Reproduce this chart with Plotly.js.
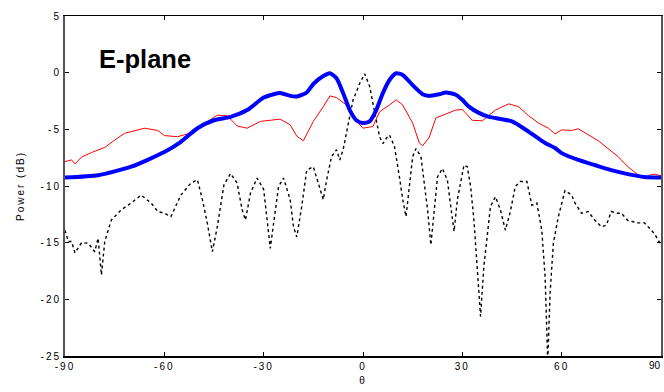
<!DOCTYPE html>
<html>
<head>
<meta charset="utf-8">
<script src="https://cdn.plot.ly/plotly-3.0.1.min.js"></script>
<style>
html,body{margin:0;padding:0;background:#fff;}
#chart{width:664px;height:392px;}
#chart .xtick text, #chart .ytick text, #chart .xtitle, #chart .ytitle, #chart .annotation.ticklab text {letter-spacing: 2px;}
</style>
</head>
<body>
<div id="chart"></div>
<script>
// Blue (thick) series
const blueTheta = [-90,-80,-70,-60,-55,-50,-45,-40,-35,-30,-27,-25,-22,-20,-17,-15,-12,-10,-8,-6,-4,-2,0,2,4,6,8,10,12,15,18,20,23,25,28,30,32,35,38,40,45,50,55,58,60,65,70,75,80,85,90];
const bluePower = [-9.25,-9.05,-8.3,-7.0,-6.1,-4.9,-4.2,-3.9,-3.3,-2.2,-1.9,-1.8,-2.05,-2.1,-1.75,-1.0,-0.3,-0.05,-0.5,-1.8,-3.3,-4.2,-4.45,-4.3,-3.3,-1.8,-0.65,-0.05,-0.2,-1.1,-1.9,-2.05,-1.9,-1.75,-1.95,-2.4,-3.0,-3.55,-3.9,-4.0,-4.3,-5.2,-6.2,-6.65,-7.1,-7.7,-8.15,-8.6,-8.95,-9.2,-9.25];

// Red (thin) series
const redTheta = [-90,-89,-88,-87,-85,-82,-78,-75,-72,-70,-66,-62,-60,-56,-53,-50,-47,-44,-41,-38,-35,-31,-28,-25,-22,-20,-18,-15,-12,-10,-8,-5,-3,0,3,5,8,10,12,15,17,18,20,22,25,28,30,33,36,38,40,44,47,50,53,56,58,60,63,65,68,71,74,77,80,83,85,86.5,88,90];
const redPower = [-7.85,-7.8,-7.7,-8.05,-7.45,-7.05,-6.6,-5.95,-5.35,-5.2,-4.9,-5.1,-5.55,-5.65,-5.4,-4.9,-4.3,-3.75,-3.8,-4.7,-4.9,-4.3,-4.2,-4.1,-4.6,-5.6,-6.0,-4.3,-3.0,-2.05,-2.2,-2.85,-4.0,-4.9,-4.75,-3.45,-2.85,-2.4,-2.85,-4.45,-6.2,-6.45,-5.7,-4.0,-3.65,-3.3,-3.25,-4.2,-4.25,-3.75,-3.3,-2.75,-3.0,-3.8,-4.45,-4.9,-5.4,-5.05,-5.1,-4.95,-5.5,-6.0,-6.7,-7.4,-8.3,-9.0,-9.3,-9.05,-8.95,-9.1];

// Black (dashed) series
const blackTheta = [-90,-89,-88,-87,-85,-83,-81,-80,-79,-78,-76,-73,-70,-67,-64,-62,-60,-58,-55,-52,-50,-48.5,-47,-45.5,-44,-42,-40,-38,-36.5,-35.5,-34,-32,-30,-29,-28,-27,-25.5,-24,-22,-21,-20,-18.5,-17,-15,-13.5,-12,-11,-9.5,-8,-7,-6,-5,-4,-3,-2,-1,0.5,1,2,3,4,5,6,7,8,9.5,11,12,13,14,15,16,17.5,18.5,19.5,20.5,21.5,22.5,24,25.5,26.5,27.5,28.5,30,30.5,31.5,32.5,33.5,34.5,35.5,36.5,37.5,38.5,40,41.5,43,44.5,46,47.5,49.5,51,52.5,54,55,55.8,56.5,57.5,59,60,61,63,64,66,68,70,72,73.5,75,76.5,78,80,83,85,86.5,88,90];
const blackPower = [-13.9,-14.9,-14.9,-15.9,-15.0,-15.05,-15.8,-14.6,-17.85,-14.9,-13.0,-12.1,-11.5,-10.8,-11.5,-12.25,-12.4,-12.7,-10.8,-9.75,-9.45,-11.2,-13.3,-15.8,-13.6,-9.9,-8.9,-9.75,-12.1,-13.0,-10.65,-9.3,-10.3,-13.0,-15.5,-13.3,-10.05,-9.3,-11.2,-13.6,-14.5,-11.8,-8.6,-8.3,-9.75,-11.2,-9.5,-7.4,-6.8,-7.7,-6.8,-5.35,-3.9,-2.4,-1.7,-0.95,-0.1,-0.5,-1.2,-2.7,-4.2,-5.65,-6.25,-5.8,-5.5,-6.5,-9.2,-11.2,-12.7,-10.05,-7.4,-6.7,-7.4,-9.75,-12.1,-15.2,-12.4,-9.2,-8.45,-9.5,-11.8,-14.0,-11.2,-8.9,-8.15,-8.3,-10.05,-13.0,-17.1,-21.5,-17.1,-14.15,-11.8,-10.95,-12.1,-13.9,-12.25,-10.05,-9.6,-9.6,-11.7,-11.5,-13.9,-18.0,-25.5,-19.45,-15.05,-12.7,-11.5,-10.4,-10.8,-11.5,-12.4,-12.25,-13.0,-13.6,-13.45,-12.25,-12.4,-12.4,-13.05,-13.25,-13.25,-13.7,-14.2,-15.2];

const xTicks = [-90,-60,-30,0,30,60,90];
const xTickText = ['-90','-60','-30','0','30','60',''];  // last label drawn as an edge-aligned annotation
const yTicks = [-25,-20,-15,-10,-5,0,5];

const traces = [
  {x: blackTheta, y: blackPower, type: 'scatter', mode: 'lines',
   line: {color: '#000000', width: 1.4, dash: '3px,3px'}},
  {x: redTheta, y: redPower, type: 'scatter', mode: 'lines',
   line: {color: '#ff0000', width: 1}},
  {x: blueTheta, y: bluePower, type: 'scatter', mode: 'lines',
   line: {color: '#0000ff', width: 4, shape: 'spline', smoothing: 0.6}}
];

const layout = {
  width: 664, height: 392,
  margin: {l: 65, r: 3, t: 16, b: 36},
  paper_bgcolor: '#ffffff', plot_bgcolor: '#ffffff',
  showlegend: false,
  font: {family: 'Liberation Sans, Arial, sans-serif', size: 10, color: '#000'},
  xaxis: {
    range: [-90, 90], tickvals: xTicks, ticktext: xTickText,
    showgrid: false, zeroline: false,
    showline: true, linecolor: '#000', linewidth: 1.5, mirror: 'ticks',
    ticks: 'inside', ticklen: 4, tickcolor: '#000',
    tickfont: {size: 10}, ticklabeloverflow: 'allow',
    title: {text: 'θ', font: {size: 10}, standoff: 6}
  },
  yaxis: {
    range: [-25, 5], tickvals: yTicks, ticktext: yTicks.map(String),
    showgrid: false, zeroline: false,
    showline: true, linecolor: '#555', linewidth: 2, mirror: 'ticks',
    ticks: 'inside', ticklen: 4, tickcolor: '#000',
    tickfont: {size: 10}, ticklabeloverflow: 'allow',
    title: {text: 'Power (dB)', font: {size: 10}, standoff: 20}
  },
  annotations: [{
    text: '<b>E-plane</b>', xref: 'paper', yref: 'y',
    x: 0.054, y: 1.2, xanchor: 'left', yanchor: 'middle', showarrow: false,
    font: {size: 25.5, family: 'Liberation Sans, Arial, sans-serif', color: '#000'}
  }, {
    text: String(xTicks[xTicks.length - 1]), xref: 'paper', yref: 'paper',
    x: 1, y: 0, xanchor: 'right', yanchor: 'top', xshift: 2, yshift: -2,
    showarrow: false, font: {size: 10, color: '#000'}
  }]
};

Plotly.newPlot('chart', traces, layout, {displayModeBar: false, staticPlot: true});
</script>
</body>
</html>
